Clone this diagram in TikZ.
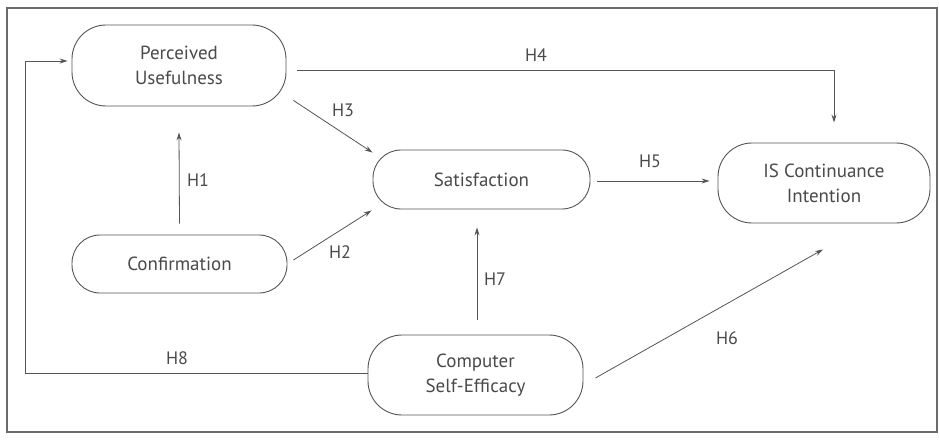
\documentclass[tikz,border=0pt]{standalone}
\usepackage{fontspec}
\setmainfont{PT Sans}
\usetikzlibrary{calc,arrows.meta}
\definecolor{ink}{HTML}{4A4A4A}
\definecolor{linec}{HTML}{555555}
\definecolor{framec}{HTML}{6A6A6A}
\begin{document}
\begin{tikzpicture}[x=1pt,y=-1pt,
  box/.style={draw=linec, line width=0.9pt, rounded corners=28pt, align=center,
    text=ink, font=\fontsize{19}{25}\selectfont, inner sep=0pt},
  tallbox/.style={box, rounded corners=34pt},
  lbl/.style={text=ink, font=\fontsize{18}{22}\selectfont, inner sep=0pt},
  arr/.style={draw=linec, line width=0.8pt, -{Stealth[length=8pt,width=5pt]}},
  frameline/.style={draw=framec, line width=1.8pt}]
\fill[white] (0,0) rectangle (940,441);
\useasboundingbox (0,0) rectangle (940,441);
\draw[frameline] (7,8) rectangle (937,432);

\node[tallbox, minimum width=214pt, minimum height=81pt] (pu) at (179,65.5) {Perceived\\Usefulness};
\node[box, minimum width=215pt, minimum height=58pt] (conf) at (179.5,264) {Confirmation};
\node[box, minimum width=217pt, minimum height=59pt] (sat) at (481.5,179.5) {Satisfaction};
\node[tallbox, minimum width=212pt, minimum height=80pt] (isci) at (824,183) {IS Continuance\\Intention};
\node[tallbox, minimum width=215pt, minimum height=80pt] (cse) at (475.5,375) {Computer\\Self-Efficacy};

% H4
\draw[arr] ($(pu.east)+(11,4.5)$) -| ($(isci.north)+(10,-20)$);
% H3
\draw[arr] ($(pu.south east)+(7,-6)$) -- ($(sat.north west)+(0,3)$);
% H1
\draw[arr] ($(conf.north)+(0,-11)$) -- ($(pu.south)+(0,26)$);
% H2
\draw[arr] ($(conf.east)+(6,-4)$) -- ($(sat.south west)+(-1,1)$);
% H5
\draw[arr] ($(sat.east)+(7,1.5)$) -- ($(isci.west)+(-8,-2)$);
% H7
\draw[arr] ($(cse.north)+(1.5,-15)$) -- ($(sat.south)+(-4.5,18)$);
% H6
\draw[arr] ($(cse.east)+(12,3)$) -- ($(isci.south)+(-1,26)$);
% H8
\coordinate (h8c) at (25,61);
\draw[arr] ($(cse.west)+(0,-2)$) -| (h8c) -- ($(pu.west)+(-4,-4.5)$);

\node[lbl] (l4) at (536,55) {H4};
\node[lbl] (l3) at (343,110) {H3};
\node[lbl] (l1) at (198,180) {H1};
\node[lbl] (l2) at (340,252) {H2};
\node[lbl] (l5) at (650,161) {H5};
\node[lbl] (l7) at (495,279) {H7};
\node[lbl] (l6) at (727,338) {H6};
\node[lbl] (l8) at (177,358) {H8};
\end{tikzpicture}
\end{document}
